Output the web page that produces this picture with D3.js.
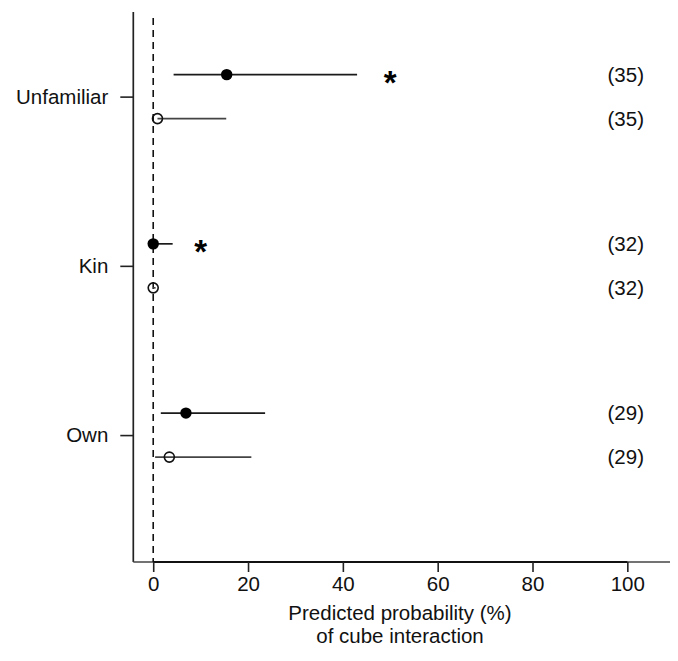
<!DOCTYPE html>
<meta charset="utf-8">
<style>
    body { margin: 0; background: #fff; }
    svg { font-family: "Liberation Sans", Arial, sans-serif; }
    .axis text { font-size: 20.5px; fill: #111; }
    .axis line { stroke: #222; stroke-width: 1.6; }
    .axis path { display: none; }
</style>
<svg id="chart" width="678" height="661"></svg>
<script src="https://cdn.jsdelivr.net/npm/d3@7"></script>
<script>

    var categories = ["Unfamiliar", "Kin", "Own"];
    var catPos = [3, 2, 1];

    // filled points (upper row of each group)
    var filledEst = [15.5, 0, 6.9];
    var filledLow = [4.3, 0, 1.6];
    var filledHigh = [43.0, 4.1, 23.6];

    // open points (lower row of each group)
    var openEst = [0.9, 0, 3.4];
    var openLow = [0.9, 0, 0.4];
    var openHigh = [15.4, 0.5, 20.7];

    var nLabels = ["(35)", "(32)", "(29)"];
    var starAt = [50, 10, null];

    var xTicks = [0, 20, 40, 60, 80, 100];

    var svg = d3.select("#chart");

    var x = d3.scaleLinear().domain([-4.2, 109]).range([133.3, 670]);
    var y = d3.scaleLinear().domain([0.25, 3.5]).range([562, 12]);
    var off = 0.13;

    // L-shaped box
    svg.append("line")
        .attr("x1", x.range()[0]).attr("x2", x.range()[0])
        .attr("y1", y.range()[1]).attr("y2", y.range()[0])
        .attr("stroke", "#222").attr("stroke-width", 1.7);
    svg.append("line")
        .attr("x1", x.range()[0]).attr("x2", x.range()[1])
        .attr("y1", y.range()[0]).attr("y2", y.range()[0])
        .attr("stroke", "#444").attr("stroke-width", 1.4);
    // axis line 0..100
    svg.append("line")
        .attr("x1", x(0)).attr("x2", x(100))
        .attr("y1", y.range()[0]).attr("y2", y.range()[0])
        .attr("stroke", "#111").attr("stroke-width", 1.8);

    // dashed reference line at 0
    svg.append("line")
        .attr("x1", x(0)).attr("x2", x(0))
        .attr("y1", 18).attr("y2", y.range()[0])
        .attr("stroke", "#111").attr("stroke-width", 1.6)
        .attr("stroke-dasharray", "7,5");

    svg.append("g")
        .attr("class", "axis")
        .attr("transform", "translate(0," + y.range()[0] + ")")
        .call(d3.axisBottom(x).tickValues(xTicks).tickSize(10).tickPadding(4));

    svg.append("g")
        .attr("class", "axis")
        .attr("transform", "translate(" + x.range()[0] + ",0)")
        .call(d3.axisLeft(y).tickValues(catPos)
            .tickFormat(function(d, i) { return categories[i]; })
            .tickSize(13).tickPadding(12))
        .selectAll("text").attr("dy", "0.33em");

    svg.append("text")
        .attr("x", 400).attr("y", 620)
        .attr("text-anchor", "middle")
        .style("font-size", "20.5px").attr("fill", "#111")
        .text("Predicted probability (%)");
    svg.append("text")
        .attr("x", 400).attr("y", 643)
        .attr("text-anchor", "middle")
        .style("font-size", "20.5px").attr("fill", "#111")
        .text("of cube interaction");

    var rows = categories.map(function(c, i) {
        return {cat: c, pos: catPos[i], i: i};
    });

    var g = svg.append("g");

    // CI lines
    g.selectAll(".ciF").data(rows).enter().append("line")
        .attr("x1", function(d) { return x(filledLow[d.i]); })
        .attr("x2", function(d) { return x(filledHigh[d.i]); })
        .attr("y1", function(d) { return y(d.pos + off); })
        .attr("y2", function(d) { return y(d.pos + off); })
        .attr("stroke", "#1a1a1a").attr("stroke-width", 1.7);

    g.selectAll(".ciO").data(rows).enter().append("line")
        .attr("x1", function(d) { return x(openLow[d.i]); })
        .attr("x2", function(d) { return x(openHigh[d.i]); })
        .attr("y1", function(d) { return y(d.pos - off); })
        .attr("y2", function(d) { return y(d.pos - off); })
        .attr("stroke", "#444").attr("stroke-width", 1.7);

    g.selectAll(".ptF").data(rows).enter().append("circle")
        .attr("cx", function(d) { return x(filledEst[d.i]); })
        .attr("cy", function(d) { return y(d.pos + off); })
        .attr("r", 5.7)
        .attr("fill", "#000");

    g.selectAll(".ptO").data(rows).enter().append("circle")
        .attr("cx", function(d) { return x(openEst[d.i]); })
        .attr("cy", function(d) { return y(d.pos - off); })
        .attr("r", 5)
        .attr("fill", "none")
        .attr("stroke", "#111").attr("stroke-width", 1.6);

    // significance stars
    g.selectAll(".star").data(rows.filter(function(d) { return starAt[d.i] != null; }))
        .enter().append("text")
        .attr("x", function(d) { return x(starAt[d.i]); })
        .attr("y", function(d) { return y(d.pos + off) + 19; })
        .attr("text-anchor", "middle")
        .style("font-size", "33px").style("font-weight", "bold")
        .attr("fill", "#000")
        .text("*");

    // sample sizes
    [off, -off].forEach(function(o) {
        g.selectAll(null).data(rows).enter().append("text")
            .attr("x", 644)
            .attr("y", function(d) { return y(d.pos + o); })
            .attr("dy", "0.35em")
            .attr("text-anchor", "end")
            .style("font-size", "20.5px").attr("fill", "#111")
            .text(function(d) { return nLabels[d.i]; });
    });

</script>
